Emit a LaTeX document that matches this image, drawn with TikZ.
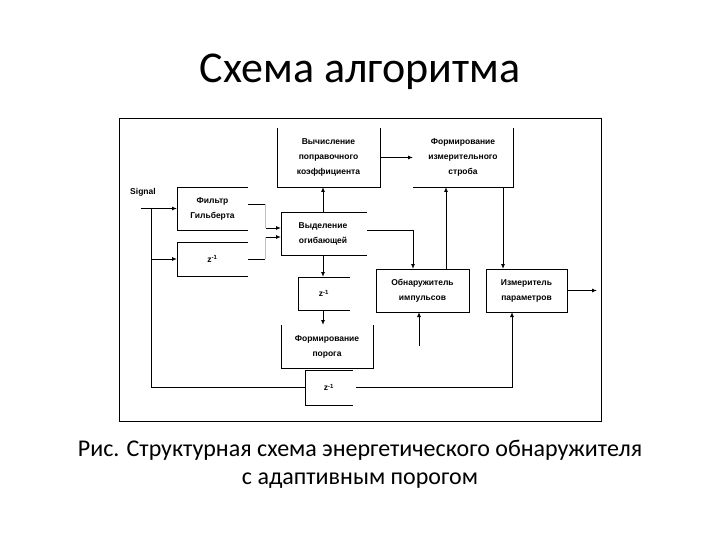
\documentclass[tikz,border=0pt]{standalone}
\usepackage{fontspec}
\setmainfont{Carlito}
\newfontfamily\dfont{Liberation Sans}
\usetikzlibrary{arrows.meta}
\tikzset{
  ln/.style={line width=0.9pt, black},
  arr/.style={ln, -{Latex[length=5pt,width=4pt]}},
  faint/.style={line width=0.6pt, black!25},
  blk/.style={rectangle, inner sep=0pt, outer sep=0pt, align=center,
    font=\dfont\bfseries\fontsize{8.5}{15}\selectfont},
}
\begin{document}
\begin{tikzpicture}[x=1pt,y=-1pt]
\useasboundingbox (0,0) rectangle (720,540);
% title and caption
\node[anchor=base, inner sep=0pt, font=\fontsize{44}{50}\selectfont] (title) at (360,83) {Схема алгоритма};
\node[anchor=base, inner sep=0pt, font=\fontsize{24}{28}\selectfont] (cap1) at (360,456) {Рис. Структурная схема энергетического обнаружителя};
\node[anchor=base, inner sep=0pt, font=\fontsize{24}{28}\selectfont] (cap2) at (360,484) {с адаптивным порогом};
% frame
\draw[ln] (119,118) rectangle (601,421);
% blocks
\node[blk, minimum width=103pt, minimum height=59pt] (calc) at (328.5,157.5) {Вычисление\\поправочного\\коэффициента};
\node[blk, minimum width=100pt, minimum height=59pt] (strob) at (463,157.5) {Формирование\\измерительного\\строба};
\node[blk, minimum width=71pt, minimum height=43pt] (filter) at (212.5,208.5) {Фильтр\\Гильберта};
\node[blk, minimum width=71pt, minimum height=34pt] (zdel1) at (212.5,259) {z\textsuperscript{-1}};
\node[blk, minimum width=84pt, minimum height=43pt] (env) at (323,233.5) {Выделение\\огибающей};
\node[blk, minimum width=52pt, minimum height=33pt] (zdel2) at (324,293.5) {z\textsuperscript{-1}};
\node[blk, minimum width=92pt, minimum height=43pt] (thr) at (327,346.5) {Формирование\\порога};
\node[blk, minimum width=48pt, minimum height=35pt] (zdel3) at (329,387.5) {z\textsuperscript{-1}};
\node[blk, minimum width=93pt, minimum height=43pt, draw, line width=0.9pt] (det) at (422.5,290.5) {Обнаружитель\\импульсов};
\node[blk, minimum width=81pt, minimum height=43pt, draw, line width=0.9pt] (meas) at (526.5,290.5) {Измеритель\\параметров};
\node[blk, anchor=center] (sig) at (143,192) {Signal};
% partial box outlines
\draw[ln] (calc.north west) -- (calc.south west) -- (calc.south east) -- (calc.north east);
\draw[ln] (strob.south west) -- (strob.south east) -- (strob.north east);
\draw[ln] (filter.north east) -- (filter.north west) -- (filter.south west) -- (filter.south east);
\draw[ln] (zdel1.north east) -- (zdel1.north west) -- (zdel1.south west) -- (zdel1.south east);
\draw[ln] ([xshift=2pt]env.north east) -- (env.north west) -- (env.south west) -- ([xshift=2pt]env.south east);
\draw[ln] (zdel2.north east) -- (zdel2.north west) -- (zdel2.south west) -- (zdel2.south east);
\draw[ln] (thr.north west) -- (thr.south west) -- (thr.south east) -- (thr.north east);
\draw[ln] (zdel3.north east) -- (zdel3.north west) -- (zdel3.south west) -- (zdel3.south east);
% coordinates
\coordinate (sigin) at (141,208.5);
\coordinate (j1) at (151,208.5);
\coordinate (j2) at (151,259);
\coordinate (j3) at (151,387.5);
\coordinate (f1) at (265,204);
\coordinate (z1o) at (265,259);
\coordinate (a1) at (266,228);
\coordinate (a2) at (266,237);
\coordinate (e1) at (413,230);
\coordinate (x446) at (446,0);
\coordinate (x503) at (503,0);
\coordinate (dfree) at (419,346);
\coordinate (x512) at (512,387.5);
\coordinate (out) at (597,290.5);
% signal input
\draw[arr] (sigin) -- (filter.west);
\draw[ln] (j1) -- (j3) -- (zdel3.west);
\draw[arr] (j2) -- (zdel1.west);
% outputs of filter and delay
\draw[ln] (filter.east |- f1) -- (f1);
\draw[ln] (zdel1.east |- z1o) -- (z1o);
\draw[faint] (f1) -- (f1 |- a1);
\draw[faint] (z1o) -- (z1o |- a2);
\draw[arr] (a1) -- (a1 -| env.west);
\draw[arr] (a2) -- (a2 -| env.west);
% envelope connections
\draw[arr] (env.north) -- (env.north |- calc.south);
\draw[arr] (env.south) -- (env.south |- zdel2.north);
\draw[arr] (env.south |- zdel2.south) -- (env.south |- thr.north);
\draw[arr] ([xshift=2pt]env.east |- e1) -- (e1) -- (e1 |- det.north);
% calc -> strob
\draw[arr] (calc.east) -- (calc.east -| strob.west);
% detector <-> strob <-> meter
\draw[arr] (x446 |- det.north) -- (x446 |- strob.south);
\draw[arr] (x503 |- strob.south) -- (x503 |- meas.north);
\draw[arr] (dfree) -- (dfree |- det.south);
% delayed signal to meter
\draw[arr] ([xshift=3pt]zdel3.east) -- (x512) -- (x512 |- meas.south);
\draw[arr] (meas.east) -- (out);
\end{tikzpicture}
\end{document}
